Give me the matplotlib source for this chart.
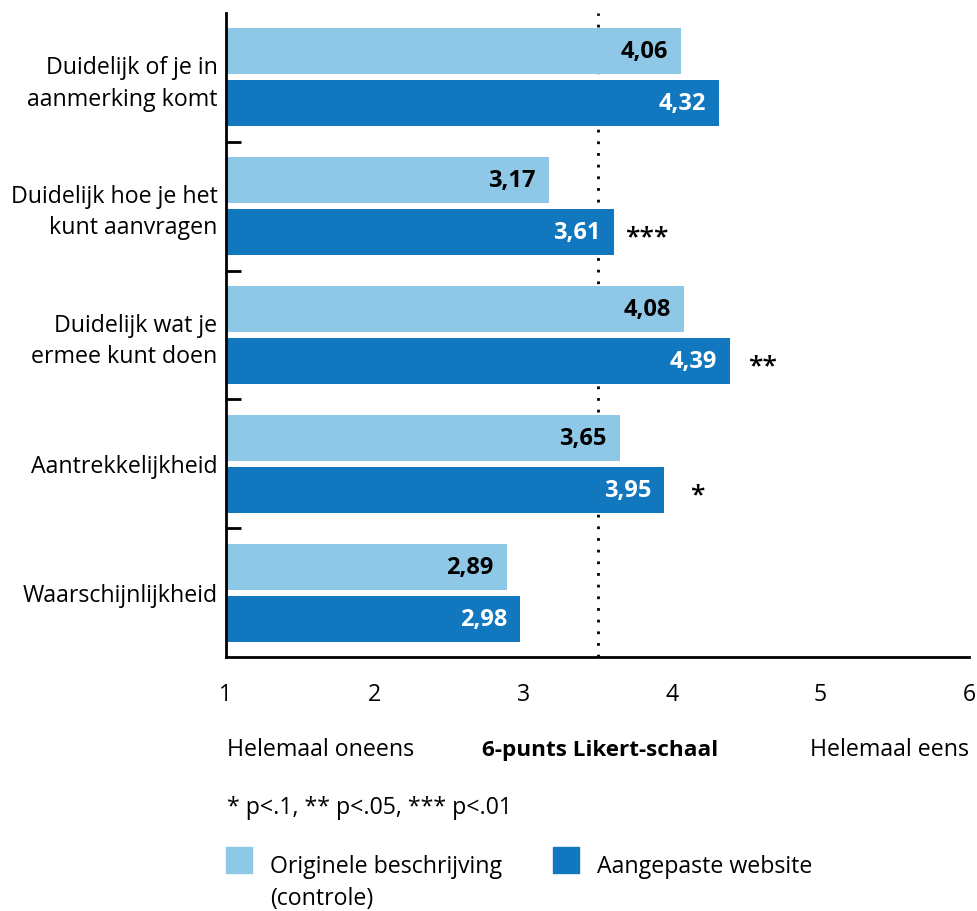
import matplotlib.pyplot as plt
from matplotlib.patches import Rectangle

plt.rcParams['font.family'] = ['Open Sans', 'DejaVu Sans']

# data
categories = ['Duidelijk of je in\naanmerking komt',
              'Duidelijk hoe je het\nkunt aanvragen',
              'Duidelijk wat je\nermee kunt doen',
              'Aantrekkelijkheid',
              'Waarschijnlijkheid']
origineel = [4.06, 3.17, 4.08, 3.65, 2.89]
aangepast = [4.32, 3.61, 4.39, 3.95, 2.98]
sterren = ['', '***', '**', '*', '']
xticks = [1, 2, 3, 4, 5, 6]
light = '#8fc8e6'
dark = '#1177bf'
fs = 16.7

fig = plt.figure(figsize=(9.78, 9.11), dpi=100)
ax = fig.add_axes([0.231, 0.2788, 0.76, 0.7069])

pos = list(range(len(categories)))
h = 0.357
off = 0.2016
ax.axvline(3.5, color='black', linestyle=(0, (1, 3.2)), linewidth=2, zorder=0)
ax.barh([p - off for p in pos], [v - 1 for v in origineel], left=1, height=h, color=light, zorder=2)
ax.barh([p + off for p in pos], [v - 1 for v in aangepast], left=1, height=h, color=dark, zorder=2)

for p, v1, v2, s in zip(pos, origineel, aangepast, sterren):
    ax.annotate(f'{v1:.2f}'.replace('.', ','), (v1, p - off), xytext=(-13, -1), textcoords='offset pixels',
                ha='right', va='center', fontsize=17, fontweight='bold', color='black', zorder=3)
    ax.annotate(f'{v2:.2f}'.replace('.', ','), (v2, p + off), xytext=(-13, -1), textcoords='offset pixels',
                ha='right', va='center', fontsize=17, fontweight='bold', color='white', zorder=3)
    if s:
        # significance stars, centred a bit right of the bar end
        ax.annotate(s, (v2, p + off), xytext=(33, -6), textcoords='offset pixels',
                    ha='center', va='center', fontsize=19, fontweight='semibold', color='black')

ax.set_xlim(1, 6)
ax.set_ylim(4.5, -0.5)
ax.set_xticks(xticks)
ax.set_xticklabels([str(t) for t in xticks], fontsize=fs)
ax.tick_params(axis='x', length=0, pad=19)
ax.set_yticks(pos)
ax.set_yticklabels(categories, fontsize=fs, ha='right', linespacing=1.4)
ax.tick_params(axis='y', which='major', length=0, pad=6)
ax.set_yticks([p + 0.5 for p in pos[:-1]], minor=True)
ax.tick_params(axis='y', which='minor', direction='in', length=10.5, width=2)
for side in ['top', 'right']:
    ax.spines[side].set_visible(False)
ax.spines['left'].set_linewidth(2)
ax.spines['bottom'].set_linewidth(2)

# texts below the axis
fig.text(227 / 978, 1 - 756 / 911, 'Helemaal oneens', fontsize=fs, ha='left', va='baseline')
fig.text(600 / 978, 1 - 756 / 911, '6-punts Likert-schaal', fontsize=16.2, fontweight='bold', ha='center', va='baseline')
fig.text(969 / 978, 1 - 756 / 911, 'Helemaal eens', fontsize=fs, ha='right', va='baseline')
fig.text(227 / 978, 1 - 814 / 911, '* p<.1, ** p<.05, *** p<.01', fontsize=fs, ha='left', va='baseline')

# legend
fig.patches.append(Rectangle((226 / 978, 1 - 873 / 911), 26 / 978, 26 / 911, transform=fig.transFigure, color=light))
fig.text(270 / 978, 1 - 873 / 911, 'Originele beschrijving', fontsize=fs, ha='left', va='baseline')
fig.text(270 / 978, 1 - 905 / 911, '(controle)', fontsize=fs, ha='left', va='baseline')
fig.patches.append(Rectangle((553 / 978, 1 - 873 / 911), 26 / 978, 26 / 911, transform=fig.transFigure, color=dark))
fig.text(597 / 978, 1 - 873 / 911, 'Aangepaste website', fontsize=fs, ha='left', va='baseline')

fig.savefig('out.png', dpi=100)
